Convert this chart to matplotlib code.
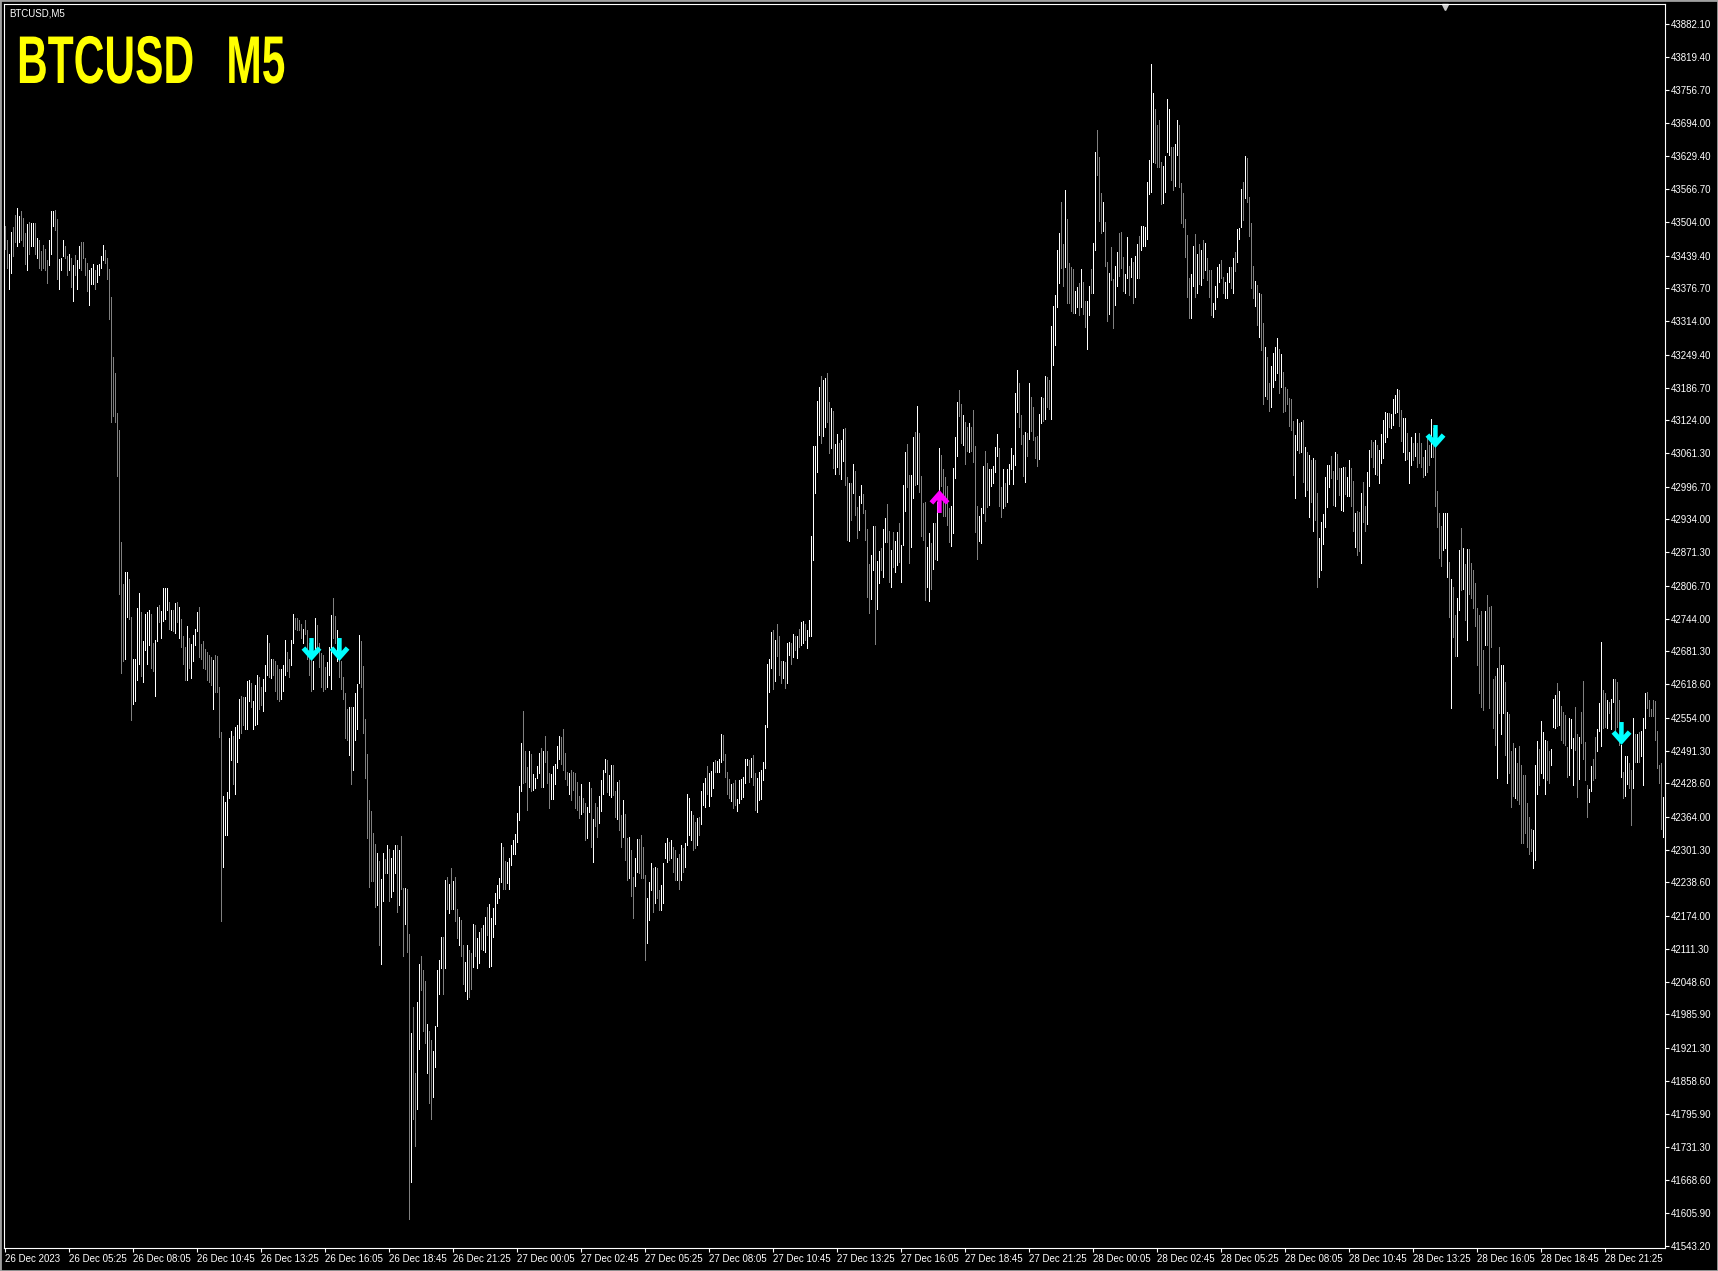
import numpy as np
import matplotlib
matplotlib.use("Agg")
import matplotlib.pyplot as plt
import matplotlib.patheffects as pe
from matplotlib.path import Path
from matplotlib.transforms import Affine2D, blended_transform_factory

# -----------------------------------------------------------------------------
# Data: one M5 bar per entry (high / low in USD).
# -----------------------------------------------------------------------------
HIGHS = [
    43497, 43470, 43443, 43484, 43494, 43518, 43530, 43515, 43524, 43512,
    43482, 43500, 43503, 43502, 43502, 43502, 43473, 43470, 43448, 43459,
    43452, 43430, 43470, 43524, 43524, 43527, 43509, 43432, 43434, 43470,
    43457, 43439, 43443, 43434, 43421, 43441, 43430, 43457, 43466, 43466,
    43434, 43425, 43412, 43416, 43423, 43412, 43421, 43423, 43439, 43459,
    43450, 43434, 43414, 43360, 43246, 43214, 43138, 43106, 42891, 42810,
    42833, 42833, 42819, 42747, 42666, 42666, 42765, 42794, 42756, 42702,
    42752, 42756, 42761, 42752, 42698, 42704, 42767, 42770, 42758, 42803,
    42803, 42803, 42776, 42761, 42761, 42774, 42776, 42767, 42743, 42711,
    42689, 42729, 42707, 42695, 42713, 42725, 42756, 42767, 42695, 42702,
    42686, 42680, 42674, 42671, 42665, 42675, 42673, 42613, 42527, 42404,
    42392, 42412, 42516, 42528, 42520, 42536, 42540, 42590, 42596, 42594,
    42594, 42625, 42627, 42621, 42586, 42617, 42636, 42633, 42613, 42629,
    42656, 42712, 42698, 42666, 42667, 42663, 42656, 42648, 42648, 42656,
    42704, 42681, 42667, 42704, 42752, 42745, 42745, 42741, 42733, 42725,
    42741, 42722, 42698, 42667, 42663, 42745, 42731, 42698, 42679, 42675,
    42652, 42660, 42690, 42751, 42783, 42749, 42722, 42683, 42663, 42633,
    42602, 42571, 42574, 42574, 42574, 42602, 42619, 42712, 42702, 42653,
    42551, 42485, 42396, 42375, 42334, 42313, 42296, 42280, 42245, 42296,
    42284, 42310, 42303, 42286, 42300, 42311, 42310, 42300, 42327, 42228,
    42228, 42226, 42139, 41951, 42001, 41874, 42009, 42083, 42098, 42071,
    42049, 41967, 41955, 41936, 41916, 41963, 42071, 42091, 42135, 42135,
    42243, 42249, 42235, 42266, 42242, 42249, 42187, 42172, 42167, 42119,
    42087, 42119, 42109, 42103, 42160, 42157, 42132, 42144, 42151, 42157,
    42173, 42192, 42197, 42170, 42189, 42219, 42234, 42247, 42314, 42307,
    42280, 42278, 42285, 42310, 42320, 42331, 42371, 42423, 42506, 42568,
    42491, 42459, 42491, 42485, 42446, 42438, 42462, 42486, 42497, 42491,
    42519, 42491, 42448, 42446, 42462, 42466, 42500, 42519, 42517, 42532,
    42486, 42451, 42448, 42455, 42451, 42448, 42432, 42404, 42428, 42400,
    42390, 42384, 42432, 42419, 42361, 42390, 42384, 42404, 42434, 42454,
    42476, 42473, 42444, 42464, 42464, 42413, 42432, 42435, 42368, 42397,
    42370, 42323, 42326, 42301, 42250, 42285, 42321, 42321, 42330, 42307,
    42253, 42208, 42240, 42275, 42266, 42269, 42266, 42224, 42234, 42275,
    42314, 42323, 42317, 42320, 42307, 42301, 42285, 42294, 42310, 42304,
    42314, 42408, 42400, 42376, 42368, 42354, 42362, 42365, 42414, 42429,
    42438, 42462, 42448, 42453, 42470, 42474, 42472, 42476, 42523, 42521,
    42485, 42451, 42436, 42427, 42430, 42435, 42398, 42434, 42436, 42441,
    42476, 42476, 42474, 42478, 42483, 42449, 42438, 42451, 42454, 42470,
    42540, 42657, 42666, 42719, 42722, 42703, 42734, 42711, 42662, 42662,
    42660, 42698, 42700, 42697, 42715, 42711, 42711, 42725, 42738, 42740,
    42734, 42722, 42741, 42902, 43075, 43075, 43160, 43187, 43209, 43201,
    43204, 43214, 43158, 43147, 43142, 43079, 43098, 43081, 43086, 43107,
    43110, 43015, 43004, 43004, 43040, 43027, 42958, 42978, 43000, 42983,
    42952, 42915, 42849, 42866, 42921, 42921, 42855, 42874, 42879, 42915,
    42936, 42964, 42911, 42875, 42909, 42893, 42909, 42927, 42885, 43000,
    43064, 43078, 43019, 43019, 43091, 43102, 43151, 43100, 43018, 42965,
    42967, 42881, 42908, 42888, 42927, 42927, 42968, 43071, 43057, 43030,
    43016, 42999, 42956, 42960, 43033, 43092, 43159, 43182, 43155, 43134,
    43120, 43111, 43118, 43112, 43143, 43074, 42960, 42940, 42956, 43037,
    43066, 43042, 43031, 43030, 43036, 43072, 43098, 43070, 42996, 43031,
    43003, 43031, 43040, 43071, 43057, 43177, 43220, 43196, 43134, 43095,
    43102, 43100, 43196, 43168, 43150, 43092, 43093, 43136, 43168, 43167,
    43209, 43207, 43202, 43304, 43343, 43364, 43451, 43483, 43542, 43462,
    43565, 43510, 43425, 43417, 43413, 43372, 43380, 43387, 43414, 43389,
    43353, 43353, 43382, 43413, 43464, 43638, 43679, 43629, 43560, 43543,
    43503, 43427, 43406, 43456, 43394, 43420, 43446, 43483, 43485, 43437,
    43405, 43475, 43419, 43434, 43428, 43439, 43462, 43476, 43497, 43497,
    43494, 43581, 43622, 43807, 43750, 43720, 43690, 43700, 43619, 43611,
    43630, 43740, 43720, 43648, 43647, 43654, 43700, 43690, 43579, 43560,
    43509, 43479, 43396, 43404, 43458, 43481, 43442, 43462, 43450, 43469,
    43463, 43434, 43411, 43411, 43349, 43381, 43418, 43423, 43431, 43399,
    43388, 43407, 43418, 43418, 43434, 43447, 43490, 43492, 43566, 43581,
    43630, 43626, 43552, 43502, 43419, 43391, 43383, 43367, 43366, 43311,
    43264, 43246, 43196, 43228, 43252, 43264, 43281, 43260, 43251, 43217,
    43187, 43183, 43166, 43164, 43123, 43096, 43126, 43119, 43121, 43124,
    43072, 43064, 43057, 43047, 43051, 43047, 42985, 42898, 42930, 42944,
    43016, 43038, 43038, 43056, 43027, 43064, 43059, 43032, 43032, 43035,
    43034, 43016, 43048, 43032, 43008, 42947, 42951, 42949, 42985, 43006,
    42960, 43024, 43067, 43087, 43083, 43087, 43077, 43067, 43098, 43124,
    43140, 43137, 43137, 43136, 43164, 43172, 43183, 43182, 43144, 43128,
    43128, 43099, 43064, 43091, 43081, 43100, 43080, 43100, 43081, 43054,
    43067, 43093, 43077, 43126, 43109, 43077, 42989, 42947, 42921, 42947,
    42947, 42947, 42853, 42819, 42805, 42751, 42783, 42876, 42917, 42879,
    42849, 42877, 42877, 42851, 42838, 42813, 42764, 42751, 42759, 42683,
    42759, 42789, 42767, 42768, 42628, 42634, 42649, 42689, 42655, 42655,
    42623, 42566, 42561, 42491, 42506, 42497, 42467, 42500, 42464, 42444,
    42444, 42390, 42365, 42342, 42339, 42464, 42510, 42494, 42547, 42526,
    42512, 42510, 42491, 42494, 42591, 42598, 42620, 42606, 42577, 42566,
    42559, 42499, 42553, 42551, 42515, 42575, 42523, 42517, 42566, 42625,
    42508, 42425, 42417, 42462, 42476, 42518, 42532, 42583, 42700, 42607,
    42601, 42588, 42585, 42591, 42628, 42628, 42623, 42588, 42502, 42451,
    42480, 42480, 42468, 42454, 42553, 42523, 42523, 42526, 42528, 42553,
    42602, 42604, 42588, 42570, 42589, 42587, 42529, 42464, 42467, 42403,
]

LOWS = [
    43452, 43416, 43376, 43407, 43439, 43466, 43457, 43466, 43470, 43457,
    43423, 43412, 43443, 43457, 43457, 43443, 43434, 43416, 43412, 43416,
    43412, 43387, 43421, 43443, 43497, 43488, 43394, 43376, 43412, 43439,
    43434, 43403, 43412, 43380, 43353, 43403, 43376, 43416, 43412, 43434,
    43403, 43371, 43344, 43385, 43385, 43376, 43389, 43403, 43416, 43430,
    43425, 43394, 43318, 43120, 43133, 43120, 43017, 42792, 42640, 42662,
    42666, 42747, 42743, 42550, 42581, 42586, 42626, 42657, 42635, 42622,
    42684, 42657, 42693, 42649, 42644, 42595, 42702, 42738, 42707, 42740,
    42743, 42761, 42725, 42722, 42720, 42716, 42738, 42707, 42689, 42657,
    42626, 42626, 42650, 42631, 42662, 42693, 42720, 42671, 42666, 42649,
    42647, 42626, 42622, 42617, 42570, 42604, 42604, 42518, 42164, 42269,
    42330, 42330, 42400, 42474, 42427, 42408, 42470, 42516, 42524, 42540,
    42532, 42532, 42586, 42574, 42532, 42540, 42543, 42570, 42578, 42567,
    42605, 42636, 42632, 42630, 42636, 42605, 42590, 42586, 42590, 42605,
    42636, 42644, 42632, 42656, 42698, 42725, 42722, 42722, 42706, 42698,
    42714, 42667, 42636, 42605, 42609, 42683, 42679, 42652, 42613, 42605,
    42609, 42613, 42636, 42609, 42706, 42698, 42663, 42632, 42609, 42590,
    42516, 42512, 42482, 42427, 42454, 42512, 42532, 42621, 42613, 42524,
    42439, 42323, 42230, 42242, 42242, 42191, 42195, 42118, 42083, 42203,
    42257, 42257, 42203, 42211, 42222, 42257, 42183, 42195, 42226, 42098,
    42160, 42106, 41595, 41665, 41785, 41734, 41804, 41920, 42032, 41955,
    41932, 41874, 41816, 41785, 41827, 41885, 41963, 42025, 42075, 42025,
    42075, 42187, 42180, 42187, 42187, 42164, 42133, 42118, 42097, 42045,
    42030, 42015, 42020, 42035, 42077, 42097, 42074, 42084, 42112, 42109,
    42106, 42138, 42076, 42079, 42135, 42160, 42199, 42208, 42240, 42227,
    42227, 42237, 42227, 42272, 42294, 42294, 42317, 42358, 42413, 42429,
    42432, 42377, 42422, 42413, 42416, 42419, 42438, 42449, 42422, 42422,
    42470, 42429, 42381, 42398, 42398, 42427, 42457, 42476, 42466, 42454,
    42436, 42425, 42409, 42397, 42416, 42381, 42377, 42363, 42370, 42374,
    42320, 42323, 42374, 42307, 42278, 42346, 42326, 42352, 42376, 42409,
    42451, 42411, 42406, 42403, 42406, 42365, 42361, 42339, 42307, 42326,
    42282, 42243, 42247, 42213, 42170, 42231, 42259, 42256, 42247, 42247,
    42090, 42122, 42167, 42224, 42183, 42199, 42208, 42186, 42186, 42199,
    42285, 42278, 42282, 42285, 42259, 42243, 42243, 42227, 42243, 42259,
    42269, 42310, 42330, 42320, 42301, 42305, 42310, 42330, 42350, 42387,
    42384, 42409, 42385, 42404, 42419, 42451, 42451, 42451, 42470, 42474,
    42441, 42409, 42400, 42395, 42381, 42387, 42376, 42390, 42398, 42403,
    42430, 42464, 42432, 42440, 42425, 42377, 42374, 42397, 42398, 42434,
    42457, 42536, 42604, 42649, 42610, 42625, 42672, 42636, 42620, 42630,
    42612, 42620, 42674, 42658, 42671, 42684, 42668, 42690, 42693, 42697,
    42703, 42687, 42711, 42711, 42856, 42984, 43025, 43096, 43080, 43094,
    43112, 43121, 43061, 43070, 43032, 43022, 43035, 43021, 43011, 43045,
    43000, 42895, 42893, 42932, 42984, 42943, 42898, 42914, 42966, 42946,
    42895, 42786, 42754, 42781, 42837, 42695, 42762, 42813, 42837, 42824,
    42891, 42891, 42815, 42805, 42842, 42834, 42847, 42853, 42815, 42885,
    42951, 42997, 42850, 42881, 42976, 43000, 43002, 42987, 42903, 42895,
    42780, 42804, 42777, 42801, 42840, 42859, 42856, 42968, 42999, 42941,
    42941, 42924, 42890, 42883, 42908, 43013, 43056, 43133, 43080, 43077,
    43040, 43066, 43064, 43066, 43044, 42910, 42859, 42893, 42888, 42947,
    42931, 42958, 42962, 42999, 43003, 43025, 43056, 42960, 42938, 42955,
    42960, 42967, 43001, 43031, 43001, 43038, 43140, 43112, 43078, 43018,
    43006, 43056, 43088, 43104, 43086, 43052, 43037, 43049, 43119, 43122,
    43126, 43150, 43146, 43127, 43230, 43268, 43341, 43386, 43415, 43382,
    43417, 43348, 43348, 43334, 43330, 43330, 43341, 43326, 43341, 43328,
    43302, 43261, 43326, 43367, 43367, 43451, 43594, 43506, 43483, 43487,
    43419, 43314, 43328, 43393, 43300, 43345, 43382, 43401, 43415, 43372,
    43367, 43396, 43364, 43399, 43348, 43360, 43396, 43396, 43451, 43458,
    43458, 43471, 43557, 43562, 43619, 43617, 43610, 43610, 43539, 43541,
    43562, 43637, 43632, 43585, 43565, 43573, 43632, 43571, 43502, 43495,
    43437, 43361, 43319, 43319, 43381, 43361, 43368, 43385, 43383, 43396,
    43412, 43393, 43361, 43326, 43322, 43338, 43361, 43389, 43396, 43368,
    43358, 43358, 43389, 43377, 43368, 43410, 43428, 43472, 43495, 43508,
    43549, 43543, 43476, 43377, 43359, 43342, 43306, 43283, 43259, 43156,
    43170, 43164, 43142, 43150, 43188, 43201, 43215, 43176, 43188, 43140,
    43142, 43156, 43113, 43105, 43019, 42976, 43067, 43062, 43064, 43006,
    42978, 42990, 42939, 42968, 42911, 42933, 42805, 42823, 42837, 42887,
    42920, 42957, 42997, 43013, 42962, 42960, 43011, 42981, 42952, 42951,
    42983, 42978, 42978, 42960, 42911, 42882, 42866, 42874, 42850, 42930,
    42912, 42926, 42998, 43053, 43035, 43021, 43019, 43003, 43043, 43051,
    43083, 43091, 43112, 43109, 43115, 43137, 43140, 43113, 43085, 43064,
    43048, 43049, 43004, 43038, 43048, 43056, 43034, 43043, 43034, 43016,
    43019, 43024, 43038, 43054, 43053, 42959, 42920, 42860, 42844, 42876,
    42879, 42824, 42748, 42572, 42709, 42672, 42672, 42761, 42799, 42800,
    42741, 42703, 42792, 42783, 42764, 42730, 42655, 42602, 42575, 42569,
    42694, 42694, 42572, 42689, 42534, 42502, 42438, 42563, 42523, 42563,
    42483, 42429, 42448, 42384, 42404, 42400, 42397, 42389, 42314, 42315,
    42333, 42307, 42294, 42298, 42266, 42282, 42409, 42425, 42448, 42438,
    42409, 42435, 42429, 42464, 42537, 42534, 42538, 42540, 42512, 42505,
    42502, 42441, 42444, 42496, 42425, 42492, 42403, 42436, 42505, 42475,
    42435, 42365, 42393, 42413, 42435, 42438, 42491, 42529, 42500, 42534,
    42537, 42534, 42563, 42532, 42585, 42531, 42537, 42502, 42441, 42400,
    42404, 42427, 42419, 42349, 42419, 42470, 42470, 42470, 42480, 42425,
    42534, 42572, 42557, 42557, 42557, 42512, 42457, 42429, 42342, 42326,
]

# u = bar closed up (drawn white), d = bar closed down (drawn gray)
DIRECTION = "".join([
    "dduudduudd", "duduududdd", "dduuudduuu", "ddududuudd", "dduuuduuuu",
    "dddddddddd", "uudduuuudu", "uuudduuduu", "uududududd", "duduuuuddd",
    "dddduddddu", "uuuuduuudd", "uuuduuuddu", "uududddduu", "udduuddddu",
    "dddduudddd", "duuudduddd", "dduduuuudd", "dddddduduu", "duduuududd",
    "uddudduudd", "dudduuuuud", "udududdudd", "uudduduudu", "uduuuuuuud",
    "duuuuuuuud", "dduduuuudu", "ddduuuuudd", "ddudddddud", "duududduuu",
    "uduudduddu", "ddudduuddd", "duuududduu", "uududdudud", "uuuudduduu",
    "uduuuduuud", "dddudduuuu", "uududduuuu", "uuuududddu", "duudududuu",
    "duuuuuuudu", "udduduuduu", "ddududduud", "ddduuduudu", "udduduuduu",
    "udduududdd", "duududuudd", "ddduuuuddu", "ddudddduuu", "dduuuuuddu",
    "duuuuuuddd", "ududddduud", "udduuuuudd", "udddduudud", "duuduudddu",
    "ddudduuddd", "uududuuduu", "uuuuuddddu", "uuudduuddd", "ddduududud",
    "uddduuuudd", "uuududuuud", "uddddududd", "udduuuudud", "ddddduudud",
    "udududduuu", "uuuddudduu", "duudduddud", "duudduduuu", "uuduuuuddu",
    "uduududddd", "uddudddddu", "uududduudu", "dudddddddd", "uddddduduu",
    "dudddudddd", "dddduuuduu", "udduuududd", "dduuuddudd", "dduudduuud",
    "duduudddud", "uuddududuu", "uddddddddu",
])

# time axis: one label every 32 bars (2h40m of M5 bars)
X_LABELS = [
    "26 Dec 2023", "26 Dec 05:25", "26 Dec 08:05", "26 Dec 10:45", "26 Dec 13:25",
    "26 Dec 16:05", "26 Dec 18:45", "26 Dec 21:25", "27 Dec 00:05", "27 Dec 02:45",
    "27 Dec 05:25", "27 Dec 08:05", "27 Dec 10:45", "27 Dec 13:25", "27 Dec 16:05",
    "27 Dec 18:45", "27 Dec 21:25", "28 Dec 00:05", "28 Dec 02:45", "28 Dec 05:25",
    "28 Dec 08:05", "28 Dec 10:45", "28 Dec 13:25", "28 Dec 16:05", "28 Dec 18:45",
    "28 Dec 21:25",
]
BARS_PER_LABEL = 32

# price scale labels as MT4 printed them
Y_LABELS = [
    43882.10, 43819.40, 43756.70, 43694.00, 43629.40, 43566.70, 43504.00,
    43439.40, 43376.70, 43314.00, 43249.40, 43186.70, 43124.00, 43061.30,
    42996.70, 42934.00, 42871.30, 42806.70, 42744.00, 42681.30, 42618.60,
    42554.00, 42491.30, 42428.60, 42364.00, 42301.30, 42238.60, 42174.00,
    42111.30, 42048.60, 41985.90, 41921.30, 41858.60, 41795.90, 41731.30,
    41668.60, 41605.90, 41543.20,
]

# indicator arrows (bar index, price)
SELL_BARS = [153, 167, 715, 808]
SELL_PRICES = [42685, 42685, 43093, 42525]
BUY_BARS = [467]
BUY_PRICES = [42970]

# chart-shift marker on the top edge
SHIFT_BAR = 720

# -----------------------------------------------------------------------------
# Figure layout (pixel sizes of the MT4 window)
# -----------------------------------------------------------------------------
W, H = 1718, 1271
plt.rcParams["font.family"] = ["Liberation Sans", "DejaVu Sans"]

fig = plt.figure(figsize=(W / 100, H / 100), dpi=100, facecolor="black")
ax = fig.add_axes([4 / W, 23 / H, 1661 / W, 1244 / H], facecolor="black")

n = min(len(HIGHS), len(LOWS), len(DIRECTION))
x = np.arange(n)
bar_colors = ["#ffffff" if DIRECTION[i] == "u" else "#808080" for i in range(n)]
ax.vlines(x, LOWS[:n], HIGHS[:n], colors=bar_colors, linewidth=0.72,
          antialiased=False)

ax.set_xlim(-0.5, 830)
ax.set_ylim(41538.5, 43921.3)

for spine in ax.spines.values():
    spine.set_color("white")
    spine.set_linewidth(0.8)

# right-hand price scale
ax.yaxis.tick_right()
ax.set_yticks(Y_LABELS)
ax.set_yticklabels([f"{v:.2f}" for v in Y_LABELS])
ax.tick_params(axis="y", colors="white", length=3, width=0.8, pad=1.5,
               labelsize=7, direction="out")

# time scale, labels start at their tick like in MT4
ax.set_xticks(np.arange(len(X_LABELS)) * BARS_PER_LABEL)
ax.set_xticklabels(X_LABELS)
ax.tick_params(axis="x", colors="white", length=3, width=0.8, pad=1.5,
               labelsize=7, direction="out")
for lab in ax.get_xticklabels():
    lab.set_horizontalalignment("left")

# arrow markers: stem plus an open chevron head
down_verts = [(-0.22, 1.15), (0.22, 1.15), (0.22, -0.15), (0.625, 0.31),
              (1.0, -0.02), (0.0, -1.15), (-1.0, -0.02), (-0.625, 0.31),
              (-0.22, -0.15), (-0.22, 1.15)]
codes = [Path.MOVETO] + [Path.LINETO] * (len(down_verts) - 2) + [Path.CLOSEPOLY]
down_arrow = Path(down_verts, codes)
up_arrow = Path([(vx, -vy) for vx, vy in down_verts], codes)

ax.plot(SELL_BARS, SELL_PRICES, linestyle="none", marker=down_arrow,
        markersize=16.5, color="#00ffff", markeredgewidth=0)
ax.plot(BUY_BARS, BUY_PRICES, linestyle="none", marker=up_arrow,
        markersize=16.5, color="#ff00ff", markeredgewidth=0)

# small chart-shift triangle hanging from the top border
trans = blended_transform_factory(ax.transData, ax.transAxes)
ax.plot([SHIFT_BAR], [1 - 3 / 1244], transform=trans, marker="v",
        markersize=5, color="#c8c8c8", clip_on=False, linestyle="none")

# window caption
fig.text(9 / W, 1 - 8 / H, "BTCUSD,M5", color="white", fontsize=7,
         ha="left", va="top")


# The big label in MT4 uses a narrow bold face; squeeze a normal bold face
# horizontally so it takes the same room.
class Squeeze(pe.AbstractPathEffect):
    def __init__(self, sx, x0):
        super().__init__()
        self.sx = sx
        self.x0 = x0

    def draw_path(self, renderer, gc, tpath, affine, rgbFace=None):
        squeeze = Affine2D().translate(-self.x0, 0).scale(self.sx, 1).translate(self.x0, 0)
        renderer.draw_path(gc, tpath, affine + squeeze, rgbFace)


fig.text(17 / W, 1 - 83 / H, "BTCUSD  \u2009M5", color="#ffff00", fontsize=48.6,
         fontweight="bold", ha="left", va="baseline",
         path_effects=[Squeeze(0.63, 17)])

# thin grey window frame
fig.add_artist(plt.Rectangle((0, 0), 1, 1, transform=fig.transFigure,
                             fill=False, edgecolor="#a0a0a0", linewidth=2))

fig.savefig("out.png", dpi=100, facecolor="black")
